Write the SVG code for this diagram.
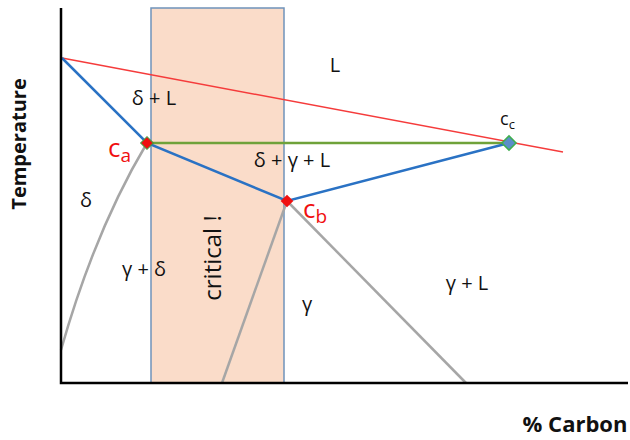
<svg xmlns="http://www.w3.org/2000/svg" width="630" height="440" viewBox="0 0 630 440">
<style>
.t{font-family:"Open Sans","Liberation Sans",sans-serif;font-size:20px;fill:#111}
.b{font-weight:bold}
.r{fill:#f01010}
.g{fill:none;stroke:#a6a6a6;stroke-width:2.5}
</style>
<rect width="630" height="440" fill="#fff"/>
<g id="critical-zone">
<rect x="151" y="8" width="133" height="375" fill="#fadcc9" stroke="#6f93ba" stroke-width="1.5"/>
<text class="t" transform="translate(221,258) rotate(-90)" text-anchor="middle" style="font-size:24px">critical !</text>
</g>
<g id="connectors">
<path class="g" d="M61,350 Q95,230 147,143"/>
<path class="g" d="M222,383 L287,201"/>
<path class="g" d="M287,201 L466,383"/>
<path d="M62,58 L563,152" stroke="#f53b3b" stroke-width="1.5" fill="none"/>
<path d="M147,143 L509,143" stroke="#6fa23a" stroke-width="2.5" fill="none"/>
<path d="M62,58 L147,143 L287,201 L509,143" stroke="#2a72c4" stroke-width="2.5" fill="none"/>
</g>
<g id="axes">
<path d="M61,8 V383 H628" stroke="#000" stroke-width="2.5" fill="none"/>
<text class="t b" transform="translate(26,144) rotate(-90)" text-anchor="middle" style="font-size:20px">Temperature</text>
<text class="t b" x="575" y="432" text-anchor="middle" style="font-size:22px">% Carbon</text>
</g>
<g id="ca">
<rect x="142.5" y="138.5" width="9" height="9" transform="rotate(45 147 143)" fill="#f01010" stroke="#4a9a3a" stroke-width="1"/>
<text class="t r" x="108" y="157" style="font-size:26px">c<tspan style="font-size:19px" dy="5">a</tspan></text>
</g>
<g id="cb">
<rect x="282.5" y="196.5" width="9" height="9" transform="rotate(45 287 201)" fill="#f01010"/>
<text class="t r" x="303" y="218" style="font-size:26px">c<tspan style="font-size:19px" dy="5">b</tspan></text>
</g>
<g id="cc">
<rect x="504" y="138" width="10" height="10" transform="rotate(45 509 143)" fill="#5b8ec9" stroke="#3fae4f" stroke-width="1.5"/>
<text class="t" x="500" y="125" style="font-size:18px">c<tspan style="font-size:13px" dy="4">c</tspan></text>
</g>
<g id="labels">
<text class="t" x="335" y="72" text-anchor="middle">L</text>
<text class="t" x="154" y="105" text-anchor="middle">δ + L</text>
<text class="t" x="292" y="167" text-anchor="middle">δ + γ + L</text>
<text class="t" x="86" y="207" text-anchor="middle">δ</text>
<text class="t" x="144" y="276" text-anchor="middle">γ + δ</text>
<text class="t" x="307" y="311" text-anchor="middle">γ</text>
<text class="t" x="467" y="290" text-anchor="middle">γ + L</text>
</g>
</svg>
